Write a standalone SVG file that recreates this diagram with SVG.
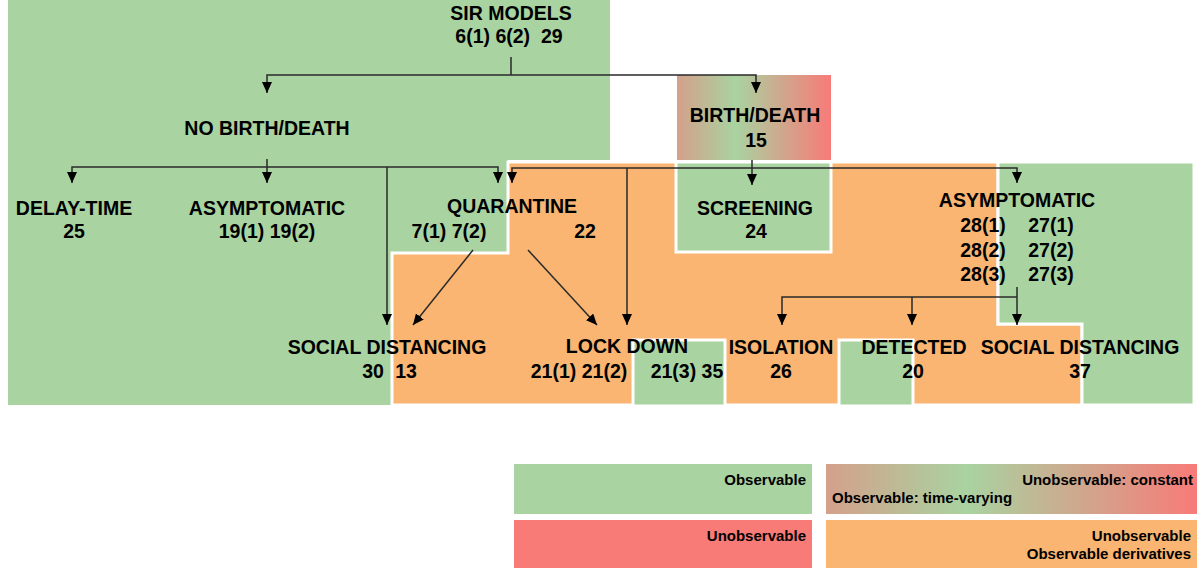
<svg xmlns="http://www.w3.org/2000/svg" width="1203" height="572" viewBox="0 0 1203 572">
<style>
.g{fill:#a9d3a1}
.o{fill:#f9b571}
.r{fill:#f87b78}
.wb{stroke:#ffffff;stroke-width:3}
.t{font-family:"Liberation Sans",Arial,sans-serif;font-weight:bold;font-size:19.5px;fill:#000;text-anchor:middle}
.l{font-family:"Liberation Sans",Arial,sans-serif;font-weight:bold;font-size:15px;fill:#000;text-anchor:end}
.c{fill:none;stroke:#2a2a2a;stroke-width:1.5}
.a{marker-end:url(#ah)}
</style>
<defs>
<marker id="ah" viewBox="0 0 11 10" refX="11" refY="5" markerWidth="11" markerHeight="10" markerUnits="userSpaceOnUse" orient="auto">
<path d="M0,0 L11,5 L0,10 z" fill="#000"/>
</marker>
<linearGradient id="mix" x1="0" y1="0" x2="1" y2="0">
<stop offset="0" stop-color="#d4a08b"/>
<stop offset="0.38" stop-color="#a9d3a1"/>
<stop offset="0.7" stop-color="#d1a58c"/>
<stop offset="1" stop-color="#f87b78"/>
</linearGradient>
</defs>
<rect width="1203" height="572" fill="#ffffff"/>
<g id="regions">
<polygon class="g" points="8,0 610,0 610,160 508,160 508,253 392,253 392,405 8,405"/>
<polygon class="o wb" points="508,162 998,162 998,324 1082,324 1082,405 392,405 392,253 508,253"/>
<polygon class="g wb" points="998,162 1194,162 1194,405 1082,405 1082,324 998,324"/>
<rect class="g wb" x="676" y="162" width="155" height="90"/>
<rect class="g wb" x="633" y="340" width="92" height="66"/>
<rect class="g wb" x="839" y="340" width="74" height="66"/>
<rect x="677" y="75" width="154" height="85" fill="url(#mix)"/>
</g>
<g id="connectors">
<path class="c" d="M511,57 V75"/>
<path class="c a" d="M511,75 H267 V93"/>
<path class="c a" d="M511,75 H756 V93"/>
<path class="c" d="M267,159 V167"/>
<path class="c a" d="M267,167 H72 V183"/>
<path class="c a" d="M267,167 V183"/>
<path class="c a" d="M267,167 H498 V183"/>
<path class="c a" d="M387,167 V325"/>
<path class="c" d="M752,160 V168"/>
<path class="c a" d="M752,168 H512 V183"/>
<path class="c a" d="M752,168 V185"/>
<path class="c a" d="M752,168 H1017 V183"/>
<path class="c a" d="M627,168 V325"/>
<path class="c a" d="M473,250 L413,325"/>
<path class="c a" d="M528,250 L597,325"/>
<path class="c a" d="M1017,287 V325"/>
<path class="c a" d="M1017,297 H782 V325"/>
<path class="c a" d="M912,297 V325"/>
</g>
<g id="sir-models">
<text class="t" x="511" y="20">SIR MODELS</text>
<text class="t" x="509" y="43" xml:space="preserve">6(1) 6(2)  29</text>
</g>
<g id="no-birth-death">
<text class="t" x="267" y="135">NO BIRTH/DEATH</text>
</g>
<g id="birth-death">
<text class="t" x="755" y="122">BIRTH/DEATH</text>
<text class="t" x="756" y="147">15</text>
</g>
<g id="delay-time">
<text class="t" x="74" y="215">DELAY-TIME</text>
<text class="t" x="74" y="238">25</text>
</g>
<g id="asymptomatic-left">
<text class="t" x="267" y="215">ASYMPTOMATIC</text>
<text class="t" x="267" y="238">19(1) 19(2)</text>
</g>
<g id="quarantine">
<text class="t" x="512" y="213">QUARANTINE</text>
<text class="t" x="449" y="238">7(1) 7(2)</text>
<text class="t" x="585" y="238">22</text>
</g>
<g id="screening">
<text class="t" x="755" y="215">SCREENING</text>
<text class="t" x="756" y="238">24</text>
</g>
<g id="asymptomatic-right">
<text class="t" x="1017" y="207">ASYMPTOMATIC</text>
<text class="t" x="983" y="232">28(1)</text>
<text class="t" x="1051" y="232">27(1)</text>
<text class="t" x="983" y="257">28(2)</text>
<text class="t" x="1051" y="257">27(2)</text>
<text class="t" x="983" y="281">28(3)</text>
<text class="t" x="1051" y="281">27(3)</text>
</g>
<g id="social-distancing-left">
<text class="t" x="387" y="354">SOCIAL DISTANCING</text>
<text class="t" x="373" y="378">30</text>
<text class="t" x="406" y="378">13</text>
</g>
<g id="lock-down">
<text class="t" x="627" y="353">LOCK DOWN</text>
<text class="t" x="579" y="378">21(1) 21(2)</text>
<text class="t" x="687" y="378">21(3) 35</text>
</g>
<g id="isolation">
<text class="t" x="781" y="354">ISOLATION</text>
<text class="t" x="781" y="378">26</text>
</g>
<g id="detected">
<text class="t" x="914" y="354">DETECTED</text>
<text class="t" x="913" y="378">20</text>
</g>
<g id="social-distancing-right">
<text class="t" x="1080" y="354">SOCIAL DISTANCING</text>
<text class="t" x="1080" y="378">37</text>
</g>
<g id="legend">
<rect class="g" x="514" y="464" width="298" height="50"/>
<text class="l" x="806" y="485">Observable</text>
<rect x="826" y="464" width="371" height="50" fill="url(#mix)"/>
<text class="l" x="1193" y="485">Unobservable: constant</text>
<text class="l" x="832" y="503" style="text-anchor:start">Observable: time-varying</text>
<rect class="r" x="514" y="520" width="298" height="48"/>
<text class="l" x="806" y="541">Unobservable</text>
<rect class="o" x="826" y="520" width="371" height="48"/>
<text class="l" x="1191" y="541">Unobservable</text>
<text class="l" x="1191" y="559">Observable derivatives</text>
</g>
</svg>
